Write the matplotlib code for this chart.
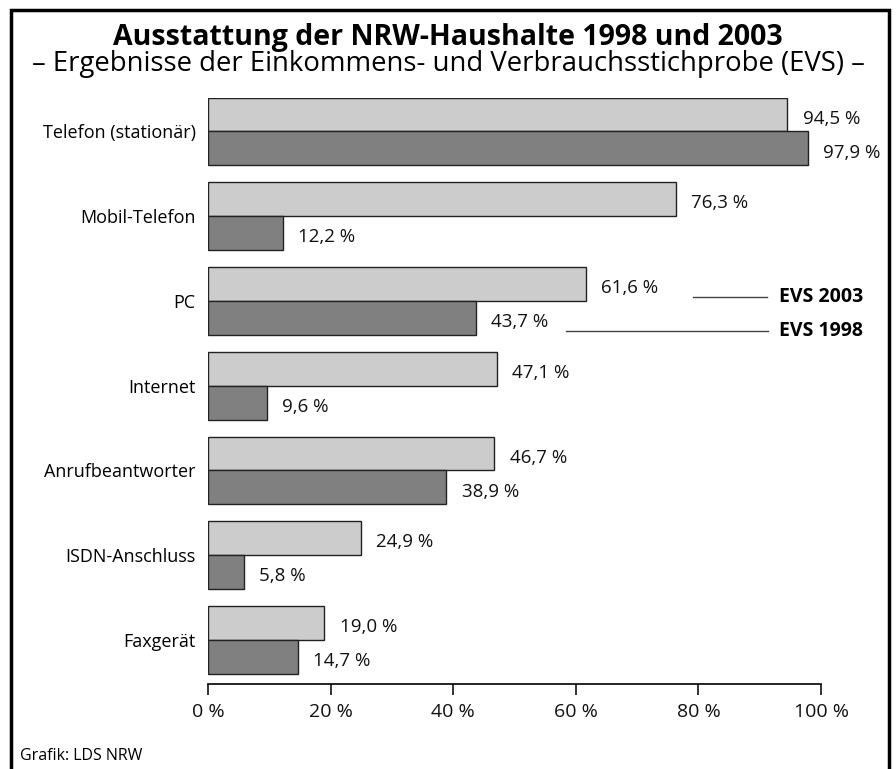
import matplotlib
matplotlib.use("Agg")
import matplotlib.pyplot as plt
from matplotlib.patches import Rectangle
import numpy as np

plt.rcParams['font.family'] = ['Open Sans', 'DejaVu Sans']

categories = ["Telefon (stationär)", "Mobil-Telefon", "PC", "Internet",
              "Anrufbeantworter", "ISDN-Anschluss", "Faxgerät"]
evs2003 = [94.5, 76.3, 61.6, 47.1, 46.7, 24.9, 19.0]
evs1998 = [97.9, 12.2, 43.7, 9.6, 38.9, 5.8, 14.7]
tick_vals = [0, 20, 40, 60, 80, 100]
tick_labels = ["0 %", "20 %", "40 %", "60 %", "80 %", "100 %"]

W, H = 896, 769
fig = plt.figure(figsize=(W / 100, H / 100), dpi=100)

def fx(px):
    return px / W

def fy(py):
    return 1 - py / H

ax = fig.add_axes([fx(208), fy(684), fx(821) - fx(208), fy(98) - fy(684)])

n = len(categories)
centers = np.arange(n)[::-1].astype(float)
bh = 0.4
light = "#cccccc"
dark = "#808080"
edge = "#222222"

ax.barh(centers + bh / 2, evs2003, height=bh, color=light, edgecolor=edge, linewidth=1)
ax.barh(centers - bh / 2, evs1998, height=bh, color=dark, edgecolor=edge, linewidth=1)

def fmt(v):
    return f"{v:.1f}".replace(".", ",") + " %"

for c, v in zip(centers, evs2003):
    ax.annotate(fmt(v), xy=(v, c + bh / 2), xytext=(11, -3), textcoords="offset points",
                ha="left", va="center", fontsize=13.5, color="#111111")
for c, v in zip(centers, evs1998):
    ax.annotate(fmt(v), xy=(v, c - bh / 2), xytext=(11, -3), textcoords="offset points",
                ha="left", va="center", fontsize=13.5, color="#111111")

ax.set_xlim(0, 100)
ax.set_ylim(-0.52, n - 1 + 0.395)
ax.set_xticks(tick_vals)
ax.set_xticklabels(tick_labels, fontsize=14)
ax.set_yticks(centers)
ax.set_yticklabels(categories, fontsize=13)
ax.tick_params(axis="y", length=0, pad=9)
ax.tick_params(axis="x", length=8, width=1.2, direction="out", pad=6, colors="#111111")
for s in ["top", "right", "left"]:
    ax.spines[s].set_visible(False)
ax.spines["bottom"].set_linewidth(1.2)

# Legend lines and labels
fig.add_artist(plt.Line2D([fx(693), fx(767)], [fy(297), fy(297)], color="#444444", lw=1))
fig.add_artist(plt.Line2D([fx(566), fx(768)], [fy(331), fy(331)], color="#444444", lw=1))
fig.text(fx(779), fy(297), "EVS 2003", fontsize=14, fontweight="bold", ha="left", va="center")
fig.text(fx(779), fy(331), "EVS 1998", fontsize=14, fontweight="bold", ha="left", va="center")

# Titles
fig.text(0.5, fy(38), "Ausstattung der NRW-Haushalte 1998 und 2003", fontsize=20.5,
         fontweight="bold", ha="center", va="center")
fig.text(0.5, fy(64), "– Ergebnisse der Einkommens- und Verbrauchsstichprobe (EVS) –",
         fontsize=19.8, ha="center", va="center")

fig.text(fx(20), fy(756), "Grafik: LDS NRW", fontsize=11.5, ha="left", va="center")

# Frame
fig.add_artist(Rectangle((fx(11), fy(790)), fx(889) - fx(11), fy(10) - fy(790),
                         fill=False, edgecolor="black", linewidth=2.5,
                         transform=fig.transFigure, clip_on=False))

fig.savefig("out.png", dpi=100)
